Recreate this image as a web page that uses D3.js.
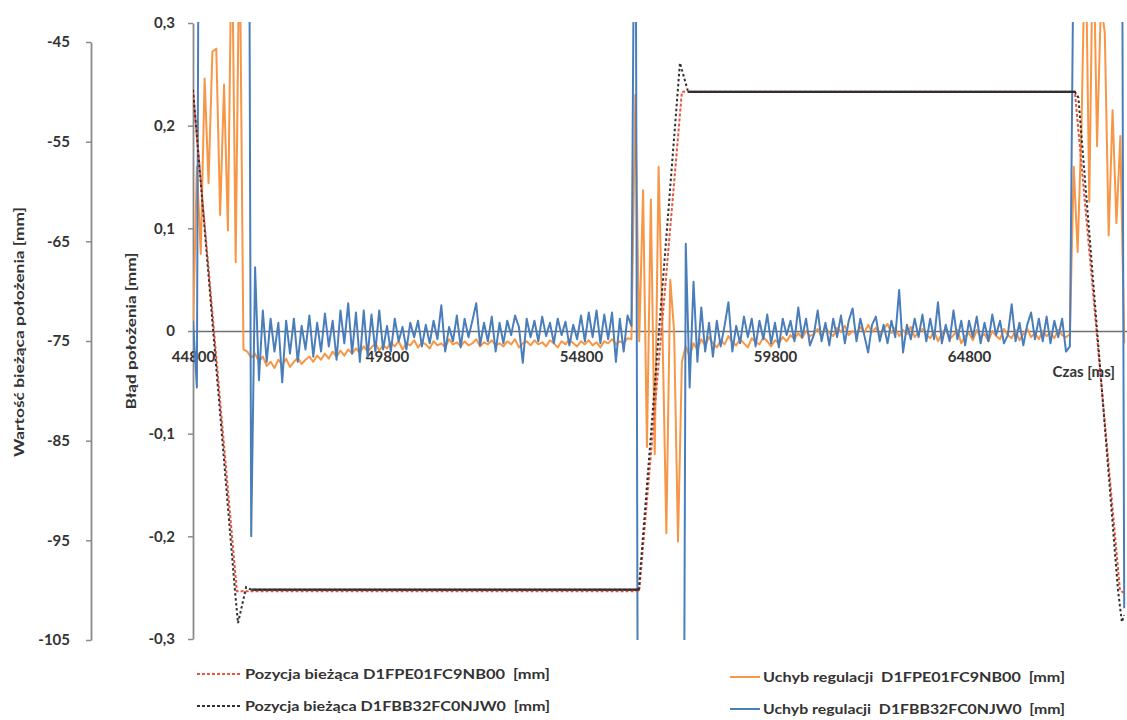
<!DOCTYPE html>
<html><head><meta charset="utf-8">
<script src="https://cdn.jsdelivr.net/npm/d3@7"></script>
<style>
body{margin:0;background:#fff;}
text{font-family:Lato,"Open Sans",sans-serif;}
</style>
</head><body>
<svg id="chart" width="1127" height="720"></svg>
<script>
// ---------- DATA ----------
// error series sampled every 100 ms starting at 44800 ms
const errStart = 44800;
const errStep = 100;
const errOrange = [
  0.0, 0.16, 0.075, 0.246, 0.144, 0.272, 0.275, 0.113, 0.24, 0.098,
  0.4, 0.067, 0.4, -0.018, -0.02, -0.026, -0.022, -0.03, -0.025, -0.034,
  -0.03, -0.036, -0.028, -0.033, -0.027, -0.035, -0.03, -0.026, -0.032, -0.028,
  -0.025, -0.03, -0.024, -0.028, -0.022, -0.027, -0.02, -0.025, -0.019, -0.024,
  -0.018, -0.022, -0.017, -0.021, -0.015, -0.02, -0.016, -0.012, -0.019, -0.014,
  -0.017, -0.011, -0.015, -0.01, -0.018, -0.012, -0.014, -0.009, -0.016, -0.011,
  -0.013, -0.017, -0.01, -0.014, -0.012, -0.016, -0.008, -0.013, -0.011, -0.015,
  -0.01, -0.014, -0.012, -0.008, -0.015, -0.011, -0.013, -0.009, -0.014, -0.012,
  -0.015, -0.01, -0.013, -0.008, -0.016, -0.012, -0.01, -0.014, -0.009, -0.013,
  -0.011, -0.015, -0.009, -0.012, -0.016, -0.01, -0.013, -0.008, -0.012, -0.015,
  -0.01, -0.013, -0.009, -0.014, -0.011, -0.016, -0.01, -0.012, -0.008, -0.013,
  -0.01, -0.012, -0.007, -0.008, 0.23, -0.01, 0.137, -0.113, 0.128, -0.12,
  0.16, 0.0, -0.197, 0.05, 0.0, -0.205, -0.03, -0.015, -0.025, -0.012,
  -0.018, -0.008, -0.014, -0.006, -0.012, -0.016, -0.009, -0.013, -0.005, -0.011,
  -0.014, -0.008, -0.012, -0.016, -0.007, -0.011, -0.013, -0.006, -0.01, -0.015,
  -0.009, -0.012, -0.006, -0.01, -0.004, -0.008, -0.002, -0.007, 0.0, -0.005,
  -0.003, 0.002, -0.006, 0.004, -0.002, -0.005, 0.003, -0.001, 0.005, -0.004,
  0.0, -0.003, 0.004, -0.002, 0.006, -0.001, 0.003, -0.004, 0.002, 0.007,
  -0.002, 0.003, -0.005, 0.001, -0.003, 0.004, -0.006, -0.001, 0.002, -0.004,
  -0.007, 0.0, -0.01, -0.003, 0.002, -0.008, -0.004, 0.001, -0.012, -0.005,
  -0.002, -0.009, 0.001, -0.006, -0.003, -0.01, 0.0, -0.005, -0.008, 0.002,
  -0.004, -0.007, 0.001, -0.009, -0.003, 0.002, -0.006, -0.002, -0.008, 0.0,
  -0.005, -0.002, -0.007, 0.001, -0.004, -0.006, -0.003, 0.16, 0.077, 0.2,
  0.4, 0.126, 0.4, 0.18, 0.32, 0.29, 0.093, 0.215, 0.105, 0.19,
  -0.012
];
const errBlue = [
  0.01, -0.055, 1, 1, 1, 1, 1, 1, 1, 1,
  1, 1, 1, 1, 1, -0.2, 0.062, -0.048, 0.02, -0.03,
  0.012, -0.02, 0.008, -0.05, 0.01, -0.022, 0.012, -0.03, 0.005, -0.018,
  0.015, -0.025, 0.008, -0.02, 0.017, -0.015, 0.01, -0.028, 0.02, -0.012,
  0.027, -0.022, 0.018, -0.03, 0.02, -0.025, 0.016, -0.02, 0.02, -0.018,
  0.005, -0.02, 0.012, -0.01, 0.004, -0.018, 0.008, -0.006, 0.01, -0.015,
  0.006, -0.012, 0.01, -0.008, 0.025, -0.02, 0.004, -0.01, 0.015, -0.016,
  0.012, -0.006, 0.01, 0.027, -0.014, 0.008, -0.01, 0.014, -0.02, 0.008,
  -0.012, 0.01, -0.004, 0.015, 0.004, -0.031, 0.012, -0.006, 0.01, -0.01,
  0.014, -0.005, 0.008, -0.012, 0.012, -0.004, 0.009, -0.014, 0.006, -0.008,
  0.015, -0.01, 0.018, -0.006, 0.02, -0.012, 0.016, -0.008, 0.018, -0.03,
  0.012, -0.02, 0.015, 0.005, 0.6, -1, -1, -1, -1, -1,
  -1, -1, -1, -1, -1, -1, -1, 0.085, -0.055, 0.048,
  -0.03, 0.023, -0.02, 0.008, -0.025, 0.01, -0.015, 0.005, 0.028, -0.02,
  0.005, -0.012, 0.014, -0.006, 0.012, -0.015, 0.01, -0.008, 0.016, -0.012,
  0.008, -0.016, 0.012, -0.004, 0.01, -0.01, 0.023, -0.006, 0.012, -0.014,
  -0.004, 0.02, -0.01, 0.008, -0.014, 0.012, -0.006, 0.015, -0.012, 0.01,
  0.022, -0.01, 0.012, -0.004, -0.021, 0.006, 0.014, -0.01, 0.006, -0.012,
  0.01, -0.006, 0.04, -0.021, 0.006, -0.008, 0.012, -0.006, 0.016, -0.01,
  0.012, -0.008, 0.028, -0.012, 0.006, -0.01, 0.02, -0.008, 0.01, -0.014,
  0.01, -0.006, 0.014, -0.012, 0.008, -0.01, 0.016, -0.004, 0.01, -0.012,
  -0.004, 0.026, -0.01, 0.008, -0.014, 0.006, 0.018, -0.008, 0.012, -0.01,
  0.014, -0.012, 0.01, -0.006, 0.012, -0.02, -0.015, 0.4, 1, 1,
  1, 1, 1, 1, 1, 1, 1, 1, 1, 1,
  -0.27
];
// position series (breakpoints: time in ms, value in mm)
const posRedT = [44800, 45930, 46000, 56300, 57400, 67530, 68690, 68800];
const posRedV = [-50, -100.1, -100.1, -100.1, -50, -50, -100, -100.3];
const posBlackT = [44800, 45880, 45960, 46170, 46300, 56290, 57350, 57560, 67530, 67620, 68640, 68740, 68800];
const posBlackV = [-49.8, -100, -103.3, -99.7, -99.95, -99.95, -47.1, -50, -50, -50.6, -100, -103.2, -102.5];

const timeTicks = [44800, 49800, 54800, 59800, 64800];
const errTicks = [0.3, 0.2, 0.1, 0, -0.1, -0.2, -0.3];
const posTicks = [-45, -55, -65, -75, -85, -95, -105];
const legendLabels = [
  "Pozycja bieżąca D1FPE01FC9NB00  [mm]",
  "Pozycja bieżąca D1FBB32FC0NJW0  [mm]",
  "Uchyb regulacji  D1FPE01FC9NB00  [mm]",
  "Uchyb regulacji  D1FBB32FC0NJW0  [mm]"
];
const titlePos = "Wartość bieżąca położenia [mm]";
const titleErr = "Błąd położenia [mm]";
const titleTime = "Czas [ms]";

// ---------- STYLE ----------
const C = {orange:"#F79646", blue:"#4A7EBB", red:"#E8553D", black:"#303030", axis:"#8a8a8a", text:"#333"};

const loc = d3.formatLocale({decimal:",", thousands:"", grouping:[3], currency:["",""], minus:"-"});
const fErr = d => d === 0 ? "0" : loc.format(".1f")(d);

const svg = d3.select("#chart");
const x = d3.scaleLinear().domain([44800, 68872]).range([193, 1127]);
const yErr = d3.scaleLinear().domain([-0.3, 0.3]).range([639, 23]);
const yPos = d3.scaleLinear().domain([-105, -45]).range([640, 42]);

svg.append("defs").append("clipPath").attr("id","plot")
  .append("rect").attr("x",193).attr("y",22).attr("width",934).attr("height",618);

// axes
function styleAxis(g){
  g.selectAll("path.domain").attr("stroke",C.axis).attr("stroke-width",1.8);
  g.selectAll(".tick line").attr("stroke",C.axis).attr("stroke-width",1.5);
  g.selectAll("text").attr("fill",C.text).attr("font-size",15).attr("font-weight","bold")
    .attr("font-family","Lato, sans-serif");
}
const gPos = svg.append("g").attr("transform","translate(91,0)")
  .call(d3.axisLeft(yPos).tickValues(posTicks).tickSize(5).tickSizeOuter(0).tickPadding(16).tickFormat(loc.format("d")));
styleAxis(gPos);
const gErr = svg.append("g").attr("transform","translate(193,0)")
  .call(d3.axisLeft(yErr).tickValues(errTicks).tickSize(5).tickSizeOuter(0).tickPadding(13).tickFormat(fErr));
styleAxis(gErr);
const gTime = svg.append("g").attr("transform",`translate(0,${yErr(0)})`)
  .call(d3.axisBottom(x).tickValues(timeTicks).tickSize(0).tickSizeOuter(0).tickPadding(20).tickFormat(loc.format("d")));
styleAxis(gTime);
gTime.select("path.domain").attr("stroke","#707070").attr("stroke-width",1.6);

// titles
svg.append("text").attr("transform","translate(19,332) rotate(-90)").attr("text-anchor","middle")
  .attr("dy","0.35em").attr("font-size",14).attr("font-weight","bold").attr("fill",C.text)
  .attr("textLength",250).attr("lengthAdjust","spacingAndGlyphs").text(titlePos);
svg.append("text").attr("transform","translate(131,331) rotate(-90)").attr("text-anchor","middle")
  .attr("dy","0.35em").attr("font-size",14).attr("font-weight","bold").attr("fill",C.text)
  .attr("textLength",157).attr("lengthAdjust","spacingAndGlyphs").text(titleErr);
svg.append("text").attr("x",1115).attr("y",yErr(0)+46).attr("text-anchor","end")
  .attr("font-size",15).attr("font-weight","bold").attr("fill",C.text).text(titleTime);

// series
const plot = svg.append("g").attr("clip-path","url(#plot)");
const errLine = d3.line().x((d,i)=>x(errStart+i*errStep)).y(d=>yErr(d));
plot.append("path").attr("d",errLine(errOrange)).attr("fill","none").attr("stroke",C.orange)
  .attr("stroke-width",2).attr("stroke-linejoin","round");
plot.append("path").attr("d",errLine(errBlue)).attr("fill","none").attr("stroke",C.blue)
  .attr("stroke-width",2).attr("stroke-linejoin","round");

const posLine = d3.line().x(d=>x(d[0])).y(d=>yPos(d[1]));
const redPts = posRedT.map((t,i)=>[t,posRedV[i]]);
const blackPts = posBlackT.map((t,i)=>[t,posBlackV[i]]);
plot.append("path").attr("d",posLine(redPts)).attr("fill","none").attr("stroke",C.red)
  .attr("stroke-width",2).attr("stroke-dasharray","3,2");
plot.append("path").attr("d",posLine(blackPts)).attr("fill","none").attr("stroke",C.black)
  .attr("stroke-width",2).attr("stroke-dasharray","2.5,2.5");
// flat parts of the black series appear solid
blackPts.slice(0,-1).forEach((p,i)=>{
  const q = blackPts[i+1];
  if (p[1] === q[1]) plot.append("path").attr("d",posLine([p,q])).attr("fill","none")
    .attr("stroke",C.black).attr("stroke-width",2.2);
});

// legend
const legend = [
  {label:legendLabels[0], color:C.red, dash:"3,2", x0:197, x1:240, tx:245, y:674, w:305},
  {label:legendLabels[1], color:C.black, dash:"3,2", x0:197, x1:240, tx:245, y:706, w:305},
  {label:legendLabels[2], color:C.orange, dash:null, x0:730, x1:760, tx:763, y:677, w:302},
  {label:legendLabels[3], color:C.blue, dash:null, x0:730, x1:760, tx:763, y:709, w:302}
];
const lg = svg.append("g").selectAll("g").data(legend).join("g");
lg.append("line").attr("x1",d=>d.x0).attr("x2",d=>d.x1).attr("y1",d=>d.y).attr("y2",d=>d.y)
  .attr("stroke",d=>d.color).attr("stroke-width",2).attr("stroke-dasharray",d=>d.dash);
lg.append("text").attr("x",d=>d.tx).attr("y",d=>d.y).attr("dy","0.35em")
  .attr("font-size",14).attr("font-weight","bold").attr("fill",C.text)
  .style("white-space","pre").attr("textLength",d=>d.w).attr("lengthAdjust","spacingAndGlyphs")
  .text(d=>d.label);
</script>
</body></html>
